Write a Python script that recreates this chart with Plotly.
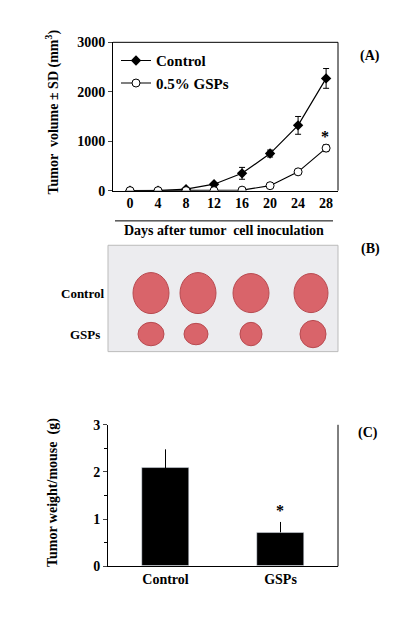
import plotly.graph_objects as go

days = [0, 4, 8, 12, 16, 20, 24, 28]
control_vol = [0, 0, 30, 130, 350, 750, 1320, 2270]
control_sd = [0, 0, 20, 30, 120, 70, 180, 200]
gsp_vol = [0, 0, 0, 0, 10, 100, 380, 860]
gsp_sd = [0, 0, 0, 0, 10, 20, 40, 70]
groups = ["Control", "GSPs"]
weight = [2.08, 0.72]
weight_sd = [0.4, 0.22]

W, H = 400, 618
def py(p): return 1 - p / H
def px(p): return p / W

F = "Liberation Serif"
TF = dict(family=F, size=14, color="black", weight="bold")
fig = go.Figure()
fig.add_trace(go.Scatter(x=days, y=control_vol, name="Control", mode="lines+markers",
    line=dict(color="black", width=1.2), marker=dict(symbol="diamond", size=8, color="black"),
    error_y=dict(type="data", array=control_sd, color="black", thickness=1, width=3),
    xaxis="x", yaxis="y"))
fig.add_trace(go.Scatter(x=days, y=gsp_vol, name="0.5% GSPs", mode="lines+markers",
    line=dict(color="black", width=1.2),
    marker=dict(symbol="circle", size=8, color="white", line=dict(color="black", width=1)),
    error_y=dict(type="data", array=gsp_sd, color="black", thickness=1, width=3),
    xaxis="x", yaxis="y"))
fig.add_trace(go.Bar(x=groups, y=weight, width=0.41, marker=dict(color="black"),
    error_y=dict(type="data", array=weight_sd, arrayminus=[0, 0], color="black", thickness=1, width=0),
    showlegend=False, xaxis="x2", yaxis="y2"))

ax = dict(showline=True, linecolor="black", linewidth=1, mirror=False, showgrid=False, zeroline=False,
          tickfont=TF, ticks="outside", ticklen=4)
fig.update_layout(
    width=W, height=H, margin=dict(l=0, r=0, t=0, b=0), plot_bgcolor="white", paper_bgcolor="white",
    font=dict(family=F, color="black"),
    xaxis=dict(ax, domain=[px(105), px(330)], range=[-2.43, 29.7], tickvals=days, ticks="", anchor="y"),
    yaxis=dict(ax, domain=[py(180), py(28)], range=[0, 3000], tickvals=[0, 1000, 2000, 3000], anchor="x"),
    xaxis2=dict(ax, domain=[px(100), px(330)], range=[-0.5, 1.5], ticks="", anchor="y2"),
    yaxis2=dict(ax, domain=[py(565), py(420)], range=[0, 3], tickvals=[0, 1, 2, 3], anchor="x2",
                minor=dict(dtick=0.5, ticks="outside", ticklen=3, tickcolor="black")),
    legend=dict(x=px(108), y=py(30), xanchor="left", yanchor="top", bgcolor="rgba(0,0,0,0)",
                font=dict(family=F, size=15, color="black", weight="bold"), tracegroupgap=0, itemwidth=30),
    bargap=0,
)
shapes = [
    dict(type="line", xref="paper", yref="paper", x0=px(330), x1=px(330), y0=py(180), y1=py(28), line=dict(color="black", width=1)),
    dict(type="line", xref="paper", yref="paper", x0=px(105), x1=px(330), y0=py(28), y1=py(28), line=dict(color="black", width=1)),
    dict(type="line", xref="paper", yref="paper", x0=px(330), x1=px(330), y0=py(565), y1=py(420), line=dict(color="black", width=1)),
    dict(type="line", xref="paper", yref="paper", x0=px(107), x1=px(325), y0=py(211), y1=py(211), line=dict(color="black", width=1)),
    dict(type="rect", xref="paper", yref="paper", x0=px(100), x1=px(330), y0=py(345), y1=py(236),
         fillcolor="#ececef", line=dict(color="#bbbbbb", width=1)),
]
tum_top = [(143, 36, 42), (190, 36, 42), (243, 36, 40), (303, 34, 40)]
tum_bot = [(143, 26, 24), (188, 24, 22), (243, 22, 24), (305, 26, 28)]
for cx, w, h in tum_top:
    shapes.append(dict(type="circle", xref="paper", yref="paper", x0=px(cx - w/2), x1=px(cx + w/2),
                       y0=py(285 + h/2), y1=py(285 - h/2), fillcolor="#d9646a", line=dict(color="#b84a50", width=1)))
for cx, w, h in tum_bot:
    shapes.append(dict(type="circle", xref="paper", yref="paper", x0=px(cx - w/2), x1=px(cx + w/2),
                       y0=py(327 + h/2), y1=py(327 - h/2), fillcolor="#d9646a", line=dict(color="#b84a50", width=1)))
fig.update_layout(shapes=shapes)

def ann(text, x, y, size=13, angle=0):
    fig.add_annotation(text=text, xref="paper", yref="paper", x=px(x), y=py(y), showarrow=False,
                       textangle=angle, xanchor="center", yanchor="middle",
                       font=dict(family=F, size=size, color="black", weight="bold"))
ann("Tumor  volume ± SD (mm<sup>3</sup>)", 45, 100, 14, -90)
ann("Days after tumor  cell inoculation", 216, 221, 14)
ann("(A)", 362, 42, 14)
ann("*", 317, 125, 16)
ann("(B)", 362, 240, 14)
ann("Control", 74, 285, 13)
ann("GSPs", 77, 327, 13)
ann("Tumor weight/mouse  (g)", 45, 490, 14, -90)
ann("(C)", 360, 428, 14)
ann("*", 272, 508, 16)
fig.write_html("out.html")
